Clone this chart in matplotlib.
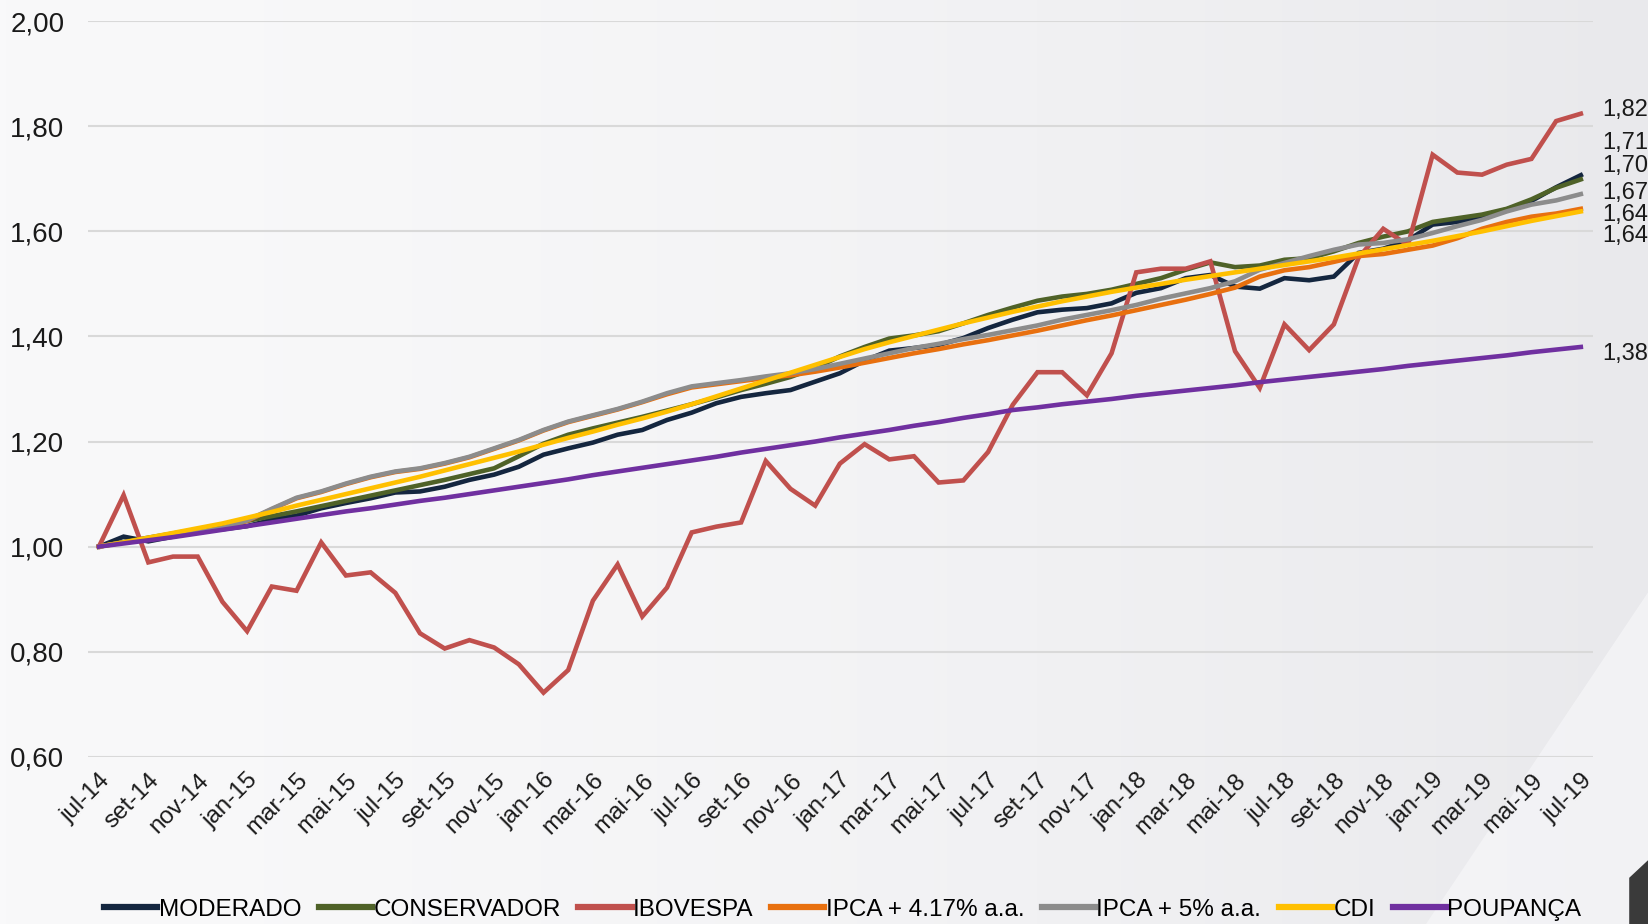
import matplotlib
matplotlib.use("Agg")
import matplotlib.pyplot as plt
import numpy as np
from matplotlib.patches import Polygon

plt.rcParams['font.family'] = ['Liberation Sans', 'DejaVu Sans']

# monthly index values, jul-14 .. jul-19 (61 months)
meses = ['jan', 'fev', 'mar', 'abr', 'mai', 'jun', 'jul', 'ago', 'set', 'out', 'nov', 'dez']
labels = []
for k in range(61):
    m = (6 + k) % 12
    a = 14 + (6 + k) // 12
    labels.append(f"{meses[m]}-{a}")

moderado = [1.000, 1.019, 1.010, 1.019, 1.029, 1.033, 1.039, 1.051, 1.059, 1.073,
            1.083, 1.092, 1.103, 1.105, 1.114, 1.127, 1.137, 1.152, 1.175, 1.187,
            1.198, 1.213, 1.222, 1.241, 1.255, 1.273, 1.285, 1.292, 1.298, 1.314,
            1.330, 1.354, 1.373, 1.378, 1.384, 1.397, 1.416, 1.432, 1.446, 1.451,
            1.454, 1.463, 1.483, 1.492, 1.511, 1.517, 1.495, 1.491, 1.511, 1.507,
            1.514, 1.559, 1.567, 1.583, 1.613, 1.618, 1.628, 1.642, 1.658, 1.684,
            1.707]
conservador = [1.000, 1.009, 1.017, 1.025, 1.033, 1.041, 1.049, 1.058, 1.067, 1.077,
               1.087, 1.097, 1.107, 1.117, 1.127, 1.138, 1.149, 1.172, 1.196, 1.213,
               1.225, 1.236, 1.247, 1.259, 1.271, 1.284, 1.298, 1.310, 1.323, 1.340,
               1.362, 1.380, 1.396, 1.402, 1.410, 1.425, 1.441, 1.455, 1.468, 1.476,
               1.481, 1.489, 1.500, 1.511, 1.527, 1.541, 1.532, 1.535, 1.546, 1.549,
               1.562, 1.578, 1.590, 1.600, 1.618, 1.625, 1.632, 1.643, 1.661, 1.683,
               1.699]
ibovespa = [1.000, 1.098, 0.970, 0.981, 0.981, 0.895, 0.839, 0.924, 0.916, 1.008,
            0.945, 0.951, 0.912, 0.835, 0.806, 0.822, 0.808, 0.776, 0.722, 0.765,
            0.897, 0.966, 0.867, 0.922, 1.027, 1.038, 1.046, 1.163, 1.110, 1.078,
            1.158, 1.195, 1.166, 1.172, 1.122, 1.126, 1.180, 1.270, 1.332, 1.332,
            1.288, 1.368, 1.522, 1.529, 1.529, 1.543, 1.372, 1.302, 1.423, 1.374,
            1.423, 1.550, 1.605, 1.574, 1.746, 1.712, 1.708, 1.727, 1.738, 1.810,
            1.824]
ipca_417 = [1.000, 1.008, 1.015, 1.021, 1.027, 1.035, 1.049, 1.071, 1.092, 1.104,
            1.119, 1.132, 1.142, 1.148, 1.158, 1.170, 1.186, 1.202, 1.221, 1.237,
            1.249, 1.261, 1.275, 1.290, 1.303, 1.309, 1.315, 1.321, 1.326, 1.333,
            1.341, 1.350, 1.359, 1.368, 1.376, 1.385, 1.393, 1.402, 1.411, 1.421,
            1.431, 1.440, 1.450, 1.460, 1.470, 1.481, 1.493, 1.514, 1.526, 1.532,
            1.542, 1.553, 1.557, 1.565, 1.573, 1.587, 1.605, 1.618, 1.628, 1.634,
            1.643]
ipca_5 = [1.000, 1.008, 1.015, 1.021, 1.027, 1.035, 1.050, 1.072, 1.093, 1.105,
          1.120, 1.133, 1.143, 1.149, 1.159, 1.171, 1.187, 1.203, 1.222, 1.238,
          1.250, 1.262, 1.276, 1.292, 1.305, 1.311, 1.317, 1.324, 1.330, 1.338,
          1.348, 1.358, 1.368, 1.378, 1.386, 1.395, 1.403, 1.412, 1.421, 1.432,
          1.441, 1.450, 1.460, 1.472, 1.482, 1.492, 1.505, 1.527, 1.540, 1.553,
          1.565, 1.575, 1.578, 1.585, 1.597, 1.610, 1.622, 1.638, 1.651, 1.659,
          1.671]
cdi = [1.000, 1.008, 1.017, 1.026, 1.035, 1.044, 1.055, 1.066, 1.078, 1.089,
       1.100, 1.111, 1.122, 1.133, 1.145, 1.157, 1.169, 1.181, 1.194, 1.207,
       1.219, 1.232, 1.244, 1.257, 1.271, 1.286, 1.301, 1.316, 1.331, 1.346,
       1.361, 1.376, 1.389, 1.401, 1.413, 1.425, 1.436, 1.447, 1.457, 1.467,
       1.476, 1.485, 1.493, 1.500, 1.508, 1.515, 1.522, 1.529, 1.536, 1.543,
       1.550, 1.558, 1.566, 1.574, 1.582, 1.591, 1.600, 1.610, 1.620, 1.629,
       1.638]
poupanca = [1.000, 1.006, 1.012, 1.018, 1.025, 1.032, 1.039, 1.046, 1.053, 1.060,
            1.067, 1.073, 1.080, 1.087, 1.093, 1.100, 1.107, 1.114, 1.121, 1.128,
            1.136, 1.143, 1.150, 1.157, 1.164, 1.171, 1.179, 1.186, 1.193, 1.200,
            1.208, 1.215, 1.222, 1.230, 1.237, 1.245, 1.252, 1.260, 1.265, 1.271,
            1.276, 1.281, 1.287, 1.292, 1.297, 1.302, 1.307, 1.313, 1.318, 1.323,
            1.328, 1.333, 1.338, 1.344, 1.349, 1.354, 1.359, 1.364, 1.370, 1.375,
            1.380]

series = [
    ("MODERADO", moderado, "#14263f"),
    ("CONSERVADOR", conservador, "#4f6228"),
    ("IBOVESPA", ibovespa, "#c0504d"),
    ("IPCA + 4.17% a.a.", ipca_417, "#e8700f"),
    ("IPCA + 5% a.a.", ipca_5, "#8c8c8c"),
    ("CDI", cdi, "#ffc000"),
    ("POUPANÇA", poupanca, "#7030a0"),
]

# where the end labels sit (stacked so they do not overlap)
end_label_y = {"IBOVESPA": 1.832, "MODERADO": 1.768, "CONSERVADOR": 1.724,
               "IPCA + 5% a.a.": 1.674, "IPCA + 4.17% a.a.": 1.631, "CDI": 1.592,
               "POUPANÇA": 1.366}

fig = plt.figure(figsize=(16.49, 9.24), dpi=100)

# soft gray background
bg = fig.add_axes([0, 0, 1, 1], zorder=-10)
grad = np.linspace(0, 1, 256)
img = np.zeros((2, 256, 3))
for c, (a, b) in enumerate([(249, 233), (249, 233), (250, 236)]):
    img[:, :, c] = (a + (b - a) * grad ** 1.5) / 255
bg.imshow(img, aspect='auto', extent=[0, 1, 0, 1])
bg.add_patch(Polygon([[1.0, 0.36], [1.0, 0.0], [0.865, 0.0]], closed=True,
                     facecolor='#f4f4f6', edgecolor='none', alpha=0.9))
bg.add_patch(Polygon([[0.988, 0.0], [0.988, 0.05], [1.0, 0.07], [1.0, 0.0]], closed=True,
                     facecolor='#3a3a3a', edgecolor='none'))
bg.set_xlim(0, 1)
bg.set_ylim(0, 1)
bg.axis('off')

ax = fig.add_axes([0.0534, 0.181, 0.9126, 0.796])
ax.set_facecolor('none')
x = np.arange(len(labels))
for name, vals, col in series:
    ax.plot(x, vals, color=col, lw=3.3, label=name, solid_joinstyle='miter')
    ax.text(61.8, end_label_y[name], f"{vals[-1]:.2f}".replace('.', ','),
            ha='center', va='center', fontsize=17, color='#1a1a1a', clip_on=False)

ax.set_ylim(0.6, 2.0)
ax.set_xlim(-0.44, 60.49)
yt = np.arange(0.6, 2.01, 0.2)
ax.set_yticks(yt)
ax.set_yticklabels([f"{v:.2f}".replace('.', ',') for v in yt], fontsize=20, color='#1a1a1a')
ax.set_xticks(x[::2])
ax.set_xticklabels(labels[::2], rotation=45, ha='right', rotation_mode='anchor',
                   fontsize=17.5, color='#1a1a1a')
ax.tick_params(axis='both', length=0)
ax.tick_params(axis='y', pad=17)
ax.tick_params(axis='x', pad=9)
ax.grid(axis='y', color='#d9d9d9', lw=1.5)
ax.set_axisbelow(True)
for s in ax.spines.values():
    s.set_visible(False)

leg = fig.legend(loc='lower center', bbox_to_anchor=(0.511, -0.02), ncol=7, frameon=False,
                 fontsize=17.5, handlelength=2.2, handletextpad=0.05, columnspacing=0.72)
for h in leg.get_lines():
    h.set_linewidth(4.5)

fig.savefig("out.png", dpi=100)
